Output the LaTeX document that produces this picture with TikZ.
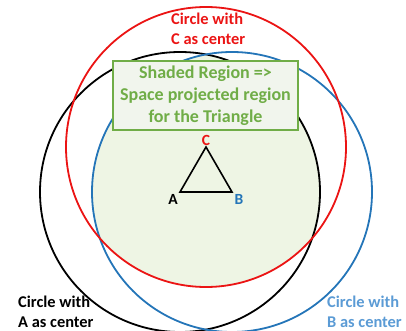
\documentclass[tikz,border=0pt]{standalone}
\usepackage{fontspec}
\setmainfont{Carlito}
\definecolor{cred}{RGB}{235,20,20}
\definecolor{cblue}{RGB}{36,117,184}
\definecolor{lblue}{RGB}{91,155,213}
\definecolor{cgreen}{RGB}{112,173,71}
\definecolor{shadegreen}{RGB}{238,245,228}
\definecolor{boxfill}{RGB}{241,245,237}
\tikzset{
  ring/.style={line width=1.8pt},
  lbl/.style={font=\fontsize{16.4}{20}\selectfont\bfseries, align=left, inner sep=0pt},
  vtx/.style={font=\fontsize{15.5}{16}\selectfont\bfseries, inner sep=0pt}
}
\begin{document}
\begin{tikzpicture}[x=1pt,y=-1pt]
\useasboundingbox (0,0) rectangle (406,331);
\coordinate (A) at (180,192);
\coordinate (B) at (232,192);
\coordinate (C) at (206,147);
% shaded intersection
\begin{scope}
  \clip (A) circle (140);
  \clip (B) circle (140);
  \fill[shadegreen] (C) circle (140);
\end{scope}
\draw[ring, black] (A) circle (140);
\draw[ring, cblue] (B) circle (140);
\draw[ring, cred] (C) circle (140);
% triangle
\draw[line width=1.6pt, line join=miter] (A) -- (B) -- (C) -- cycle;
\node[vtx, text=black] (la) at (173,199) {A};
\node[vtx, text=cblue] (lb) at (239,199) {B};
\node[vtx, text=cred] (lc) at (206,140) {C};
% box
\node[draw=cgreen, line width=1.5pt, fill=boxfill, minimum width=185pt, minimum height=69pt,
      font=\fontsize{18}{22}\selectfont\bfseries, text=cgreen, align=center, inner sep=0pt]
  (box) at (205.5,95.5) {Shaded Region =>\\Space projected region\\for the Triangle};
% labels
\node[lbl, text=cred, anchor=north west] (lC) at (171,13) {Circle with\\C as center};
\node[lbl, text=black, anchor=north west] (lA) at (18,296) {Circle with\\A as center};
\node[lbl, text=lblue, anchor=north west] (lB) at (327,296) {Circle with\\B as center};
\end{tikzpicture}
\end{document}
